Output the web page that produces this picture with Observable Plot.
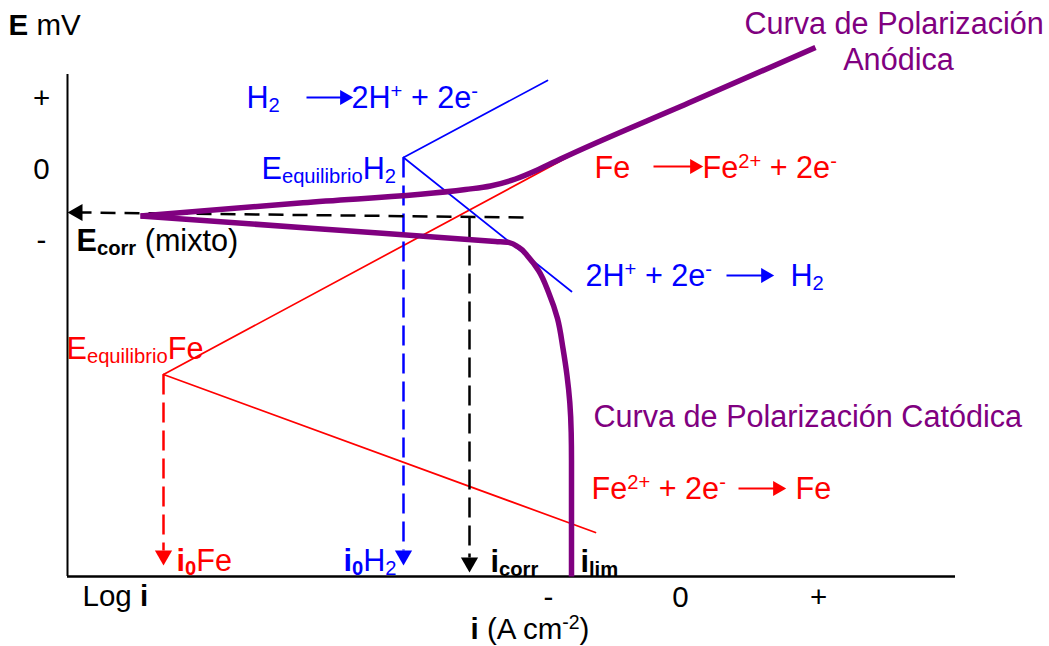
<!DOCTYPE html>
<html>
<head>
<meta charset="utf-8">
<script src="https://cdn.jsdelivr.net/npm/d3@7"></script>
<script src="https://cdn.jsdelivr.net/npm/@observablehq/plot@0.6"></script>
<style>
  body { margin: 0; background: #fff; }
</style>
</head>
<body>
<div id="chart"></div>
<script>
// ---- Data (schematic units: log i along x, E along y) ----
const yTickValues = [47.8, 40.7, 33.6];
const yTickLabels = ["+", "0", "-"];
const xTickValues = [48.1, 61.3, 75.1];
const xTickLabels = ["-", "0", "+"];
const axisTopE = 50.2;
const axisRightI = 88.8;

// Tafel lines
const feAnodicX = [9.6, 53.5],  feAnodicY = [20.2, 43.8];
const feCathodicX = [9.6, 52.8], feCathodicY = [20.2, 4.4];
const h2AnodicX = [33.6, 48.0], h2AnodicY = [41.9, 49.6];
const h2CathodicX = [33.6, 50.4], h2CathodicY = [41.9, 28.5];

// Mixed polarization curves
const anodicX = [7.3, 23.55, 39.8, 42.3, 44.8, 47.1, 49.3, 62.1, 74.8];
const anodicY = [36.05, 37.38, 38.7, 39.05, 39.75, 40.7, 41.75, 47.35, 52.9];
const cathodicX = [7.3, 25.05, 42.8, 44.1, 45.1, 46.1, 47.1, 48.1, 49.0, 49.55, 49.95, 50.23, 50.37, 50.4, 50.4];
const cathodicY = [36.05, 34.78, 33.5, 33.41, 32.93, 31.93, 30.6, 28.43, 25.8, 22.8, 20.1, 17.4, 14.4, 11.6, 0];

// Equilibrium / corrosion projections (dashed)
const dropNames = ["i0Fe", "i0H2", "icorr"];
const dropX = [9.6, 33.6, 40.2];
const dropTopY = [20.2, 41.9, 35.9];
const dropBaseY = [2.6, 2.6, 1.9];
const dropHeadY = [2.1, 2.1, 1.4];
const dropColor = ["#ff0000", "#0000ff", "#000000"];
const ecorrLineX = [45.6, 1.4], ecorrLineY = [35.9, 36.4];
const ecorrHeadX = 1.0, ecorrHeadY = 36.4;

// Reaction arrows inside labels
const rxArrowX1 = [23.9, 58.6, 65.9, 67.1];
const rxArrowX2 = [27.7, 62.7, 69.8, 71.0];
const rxArrowY = [47.9, 41.0, 30.1, 8.8];
const rxArrowColor = ["#0000ff", "#ff0000", "#0000ff", "#ff0000"];

// Labels (markup: _{sub} ^{sup} **bold**)
const labelText = [
  "H_{2}", "2H^{+} + 2e^{-}", "E_{equilibrio}H_{2}", "**E**_{**corr**} (mixto)",
  "Fe", "Fe^{2+} + 2e^{-}", "Curva de Polarización",
  "2H^{+} + 2e^{-}", "H_{2}", "Curva de Polarización Catódica", "E_{equilibrio}Fe",
  "Fe^{2+} + 2e^{-}", "Fe", "**i**_{**0**}Fe", "**i**_{**0**}H_{2}", "**i**_{**corr**}", "**i**_{**lim**}",
  "**E** mV", "Log **i**", "**i** (A cm^{-2})"
];
const labelX = [
  17.9, 28.4, 19.4, 0.9,
  52.7, 63.5, 67.7,
  51.8, 72.3, 52.6, -0.1,
  52.4, 72.8, 10.9, 27.6, 42.3, 51.3,
  -5.9, 1.5, 40.3
];
const labelY = [
  46.9, 46.9, 39.8, 32.6,
  39.9, 39.9, 54.3,
  29.1, 29.1, 15.0, 21.8,
  7.8, 7.8, 0.6, 0.6, 0.5, 0.5,
  54.2, -2.9, -6.2
];
const labelColor = [
  "#0000ff", "#0000ff", "#0000ff", "#000000",
  "#ff0000", "#ff0000", "#800080",
  "#0000ff", "#0000ff", "#800080", "#ff0000",
  "#ff0000", "#ff0000", "#ff0000", "#0000ff", "#000000", "#000000",
  "#000000", "#000000", "#000000"
];
const centeredText = ["Anódica"], centeredX = [83.1], centeredY = [50.7];

// ---- Tables ----
const seg = (name, xs, ys) => xs.map((x, i) => ({name, x, y: ys[i]}));
const redLines = [...seg("a", feAnodicX, feAnodicY), ...seg("c", feCathodicX, feCathodicY)];
const blueLines = [...seg("a", h2AnodicX, h2AnodicY), ...seg("c", h2CathodicX, h2CathodicY)];
const anodicCurve = seg("a", anodicX, anodicY);
const cathodicCurve = seg("c", cathodicX, cathodicY);
const drops = dropNames.map((n, i) => ({n, x: dropX[i], y1: dropTopY[i], y2: dropBaseY[i], yh: dropHeadY[i], c: dropColor[i]}));
const rx = rxArrowX1.map((x1, i) => ({x1, x2: rxArrowX2[i], y: rxArrowY[i], c: rxArrowColor[i]}));
const labels = labelText.map((t, i) => ({t, x: labelX[i], y: labelY[i], c: labelColor[i], axis: i >= 17}));
const yt = yTickValues.map((v, i) => ({v, t: yTickLabels[i]}));
const xt = xTickValues.map((v, i) => ({v, t: xTickLabels[i]}));

const FONT = "'Liberation Sans', Arial, Helvetica, sans-serif";

const chart = Plot.plot({
  width: 1049,
  height: 646,
  margin: 0,
  x: {domain: [-6.7, 98.2], axis: null},
  y: {domain: [-7.0, 57.6], axis: null},
  style: {fontFamily: FONT, background: "#fff", overflow: "visible"},
  marks: [
    // axes
    Plot.ruleX([0], {y1: 0, y2: axisTopE, stroke: "#000", strokeWidth: 2}),
    Plot.ruleY([0], {x1: 0, x2: axisRightI, stroke: "#000", strokeWidth: 2.5}),
    Plot.text(yt, {x: -2.6, y: "v", text: "t", fontSize: 29.5, fill: "#000", textAnchor: "middle", lineAnchor: "middle"}),
    Plot.text(xt, {x: "v", y: -2.1, text: "t", fontSize: 29.5, fill: "#000", textAnchor: "middle", lineAnchor: "middle"}),
    // Tafel lines
    Plot.line(redLines, {x: "x", y: "y", z: "name", stroke: "#ff0000", strokeWidth: 1.7}),
    Plot.line(blueLines, {x: "x", y: "y", z: "name", stroke: "#0000ff", strokeWidth: 1.7}),
    // dashed projections
    Plot.link(drops, {x1: "x", x2: "x", y1: "y1", y2: "y2", stroke: "c", strokeWidth: 2.5, strokeDasharray: "20,8"}),
    Plot.dot(drops, {x: "x", y: "yh", fill: "c", stroke: null, symbol: "triangle", r: 6.4, rotate: 180}),
    Plot.link([0], {x1: () => ecorrLineX[0], x2: () => ecorrLineX[1], y1: () => ecorrLineY[0], y2: () => ecorrLineY[1], stroke: "#000", strokeWidth: 2.5, strokeDasharray: "15,9"}),
    Plot.dot([0], {x: () => ecorrHeadX, y: () => ecorrHeadY, fill: "#000", stroke: null, symbol: "triangle", r: 6.4, rotate: -90}),
    // polarization curves
    Plot.line(anodicCurve, {x: "x", y: "y", stroke: "#800080", strokeWidth: 5.5, curve: "monotone-x", strokeLinecap: "butt"}),
    Plot.line(cathodicCurve, {x: "x", y: "y", stroke: "#800080", strokeWidth: 5.5, curve: "monotone-y", strokeLinecap: "butt"}),
    // reaction arrows
    Plot.link(rx, {x1: "x1", x2: "x2", y1: "y", y2: "y", stroke: "c", strokeWidth: 2}),
    Plot.dot(rx, {x: "x2", y: "y", fill: "c", stroke: null, symbol: "triangle", r: 5.6, rotate: 90}),
    // labels
    Plot.text(labels.filter(d => !d.axis), {x: "x", y: "y", text: "t", fill: "c", fontSize: 30.6, textAnchor: "start", lineAnchor: "bottom"}),
    Plot.text(labels.filter(d => d.axis), {x: "x", y: "y", text: "t", fill: "c", fontSize: 29.5, textAnchor: "start", lineAnchor: "bottom"}),
    Plot.text(centeredText, {x: (d, i) => centeredX[i], y: (d, i) => centeredY[i], text: d => d, fill: "#800080", fontSize: 30.6, textAnchor: "middle", lineAnchor: "bottom"})
  ]
});

// rich text: subscripts, superscripts, bold
const NS = "http://www.w3.org/2000/svg";
for (const t of chart.querySelectorAll("text")) {
  const s = t.textContent;
  if (!/[_^]\{|\*\*/.test(s)) continue;
  const parts = s.split(/(\*\*[^*]+\*\*|[_^]\{[^}]*\})/).filter(p => p);
  while (t.firstChild) t.removeChild(t.firstChild);
  let shift = 0;
  for (const p of parts) {
    let txt = p, mode = 0, bold = false;
    if (p[0] === "_" && p[1] === "{") { mode = 1; txt = p.slice(2, -1); }
    else if (p[0] === "^" && p[1] === "{") { mode = -1; txt = p.slice(2, -1); }
    if (txt.length > 4 && txt.startsWith("**") && txt.endsWith("**")) { bold = true; txt = txt.slice(2, -2); }
    const ts = document.createElementNS(NS, "tspan");
    const target = mode === 1 ? 4 : mode === -1 ? -10 : 0;
    if (target !== shift) ts.setAttribute("dy", target - shift);
    shift = target;
    if (mode) ts.setAttribute("font-size", "0.66em");
    if (bold) ts.setAttribute("font-weight", "bold");
    ts.textContent = txt;
    t.appendChild(ts);
  }
}

document.getElementById("chart").appendChild(chart);
</script>
</body>
</html>
